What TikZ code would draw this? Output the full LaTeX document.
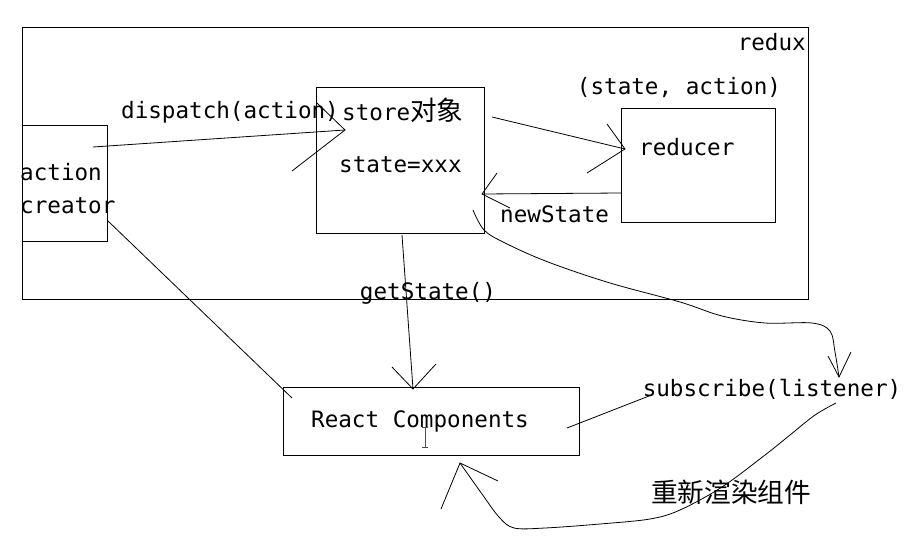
\documentclass[tikz,border=0pt]{standalone}
\usepackage{fontspec}
\setmainfont{DejaVu Sans Mono}
\newfontfamily\cjk{Noto Sans CJK SC}[Scale=1.18]

\begin{document}
\begin{tikzpicture}[x=1pt,y=-1pt,
	box/.style={draw,line width=1pt,inner sep=0pt},
	lbl/.style={inner sep=0pt,font=\fontsize{22.6}{26}\selectfont},
	wire/.style={line width=0.8pt}]
	\useasboundingbox (0,0) rectangle (917,554);

	\node[box,minimum width=786pt,minimum height=272pt] (redux) at (415,163) {};
	\node[box,minimum width=85pt,minimum height=116pt] (creatorbox) at (64.5,183) {};
	\node[box,minimum width=168pt,minimum height=146pt] (store) at (400,160) {};
	\node[box,minimum width=154pt,minimum height=114pt] (reducer) at (698,165) {};
	\node[box,minimum width=296pt,minimum height=68pt] (components) at (431,421) {};

	\node[lbl,anchor=east] (reduxlabel) at (806,42) {redux};
	\node[lbl] (args) at (679,87) {(state, action)};
	\node[lbl] (dispatch) at (230,112) {dispatch(action)};
	\node[lbl,anchor=west] (storelabel) at (342,110) {store{\cjk 对象}};
	\node[lbl,anchor=west] (statelabel) at (339,165) {state=xxx};
	\node[lbl,anchor=west] (reducerlabel) at (639,147) {reducer};
	\node[lbl,anchor=west] (newstate) at (500,214) {newState};
	\node[lbl,anchor=west] (action) at (20,172) {action};
	\node[lbl,anchor=west] (creator) at (20,206) {creator};
	\node[lbl] (getstate) at (428,293) {getState()};
	\node[lbl] (react) at (420,421) {React Components};
	\node[lbl] (subscribe) at (772,389) {subscribe(listener)};
	\node[lbl] (rerender) at (731,492) {\cjk 重新渲染组件};

	% dispatch
	\coordinate (d0) at (93,147);
	\coordinate (d1) at (345,130);
	\draw[wire] (d0) -- (d1);
	\draw[wire] (d1) ++(-28,-27) -- (d1) -- ++(-53,41);

	% store -> reducer
	\coordinate (s0) at (492,117);
	\coordinate (s1) at (625,149);
	\draw[wire] (s0) -- (s1);
	\draw[wire] (s1) ++(-18,-25) -- (s1) -- ++(-38,24);

	% newState
	\coordinate (n0) at (621,193);
	\coordinate (n1) at (482,194);
	\draw[wire] (n0) -- (n1);
	\draw[wire] (n1) ++(15,-21) -- (n1) -- ++(28,14);

	% getState
	\coordinate (g0) at (402,235);
	\coordinate (g1) at (413,389);
	\draw[wire] (g0) -- (g1);
	\draw[wire] (g1) ++(-21,-22) -- (g1) -- ++(23,-25);

	\coordinate (c0) at (108,221);
	\coordinate (c1) at (292,398);
	\draw[wire] (c0) -- (c1);

	\coordinate (u0) at (567,428);
	\coordinate (u1) at (649,396);
	\draw[wire] (u0) -- (u1);

	% listener
	\coordinate (l0) at (473,210);
	\coordinate (l1) at (839,377);
	\draw[wire] plot[smooth,tension=0.55] coordinates {(l0) (484,230) (505,243) (548,262) (610,283) (680,302) (722,316) (765,323) (812,323) (830,331) (835,352) (l1)};
	\draw[wire] (l1) ++(-11,-21) -- (l1) -- ++(12,-25);

	% re-render
	\coordinate (r0) at (836,403);
	\coordinate (r1) at (460,463);
	\draw[wire] plot[smooth,tension=0.55] coordinates {(r0) (815,415) (790,435) (765,455) (722,487) (680,510) (650,519) (600,524) (545,528) (514,528) (499,517) (482,494) (r1)};
	\draw[wire] (r1) ++(-19,46) -- (r1) -- ++(38,18);

	\coordinate (cursor) at (425,437);
	\draw[line width=0.8pt,black!70] (cursor) ++(-3,-10) -- ++(6,0) ++(-3,0) -- ++(0,20) ++(-3,0) -- ++(6,0);
\end{tikzpicture}
\end{document}
